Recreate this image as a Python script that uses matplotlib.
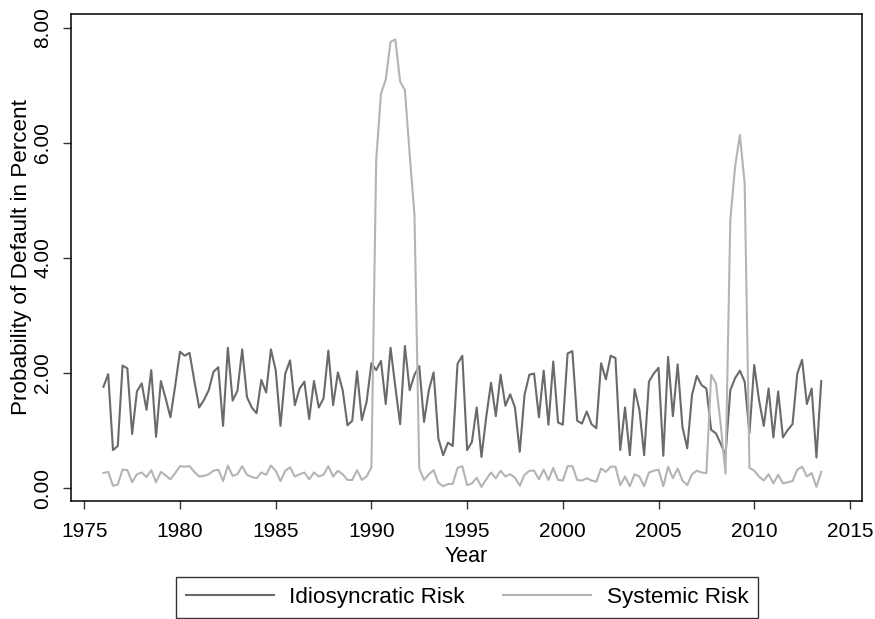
import numpy as np
import matplotlib
matplotlib.use("Agg")
import matplotlib.pyplot as plt
from matplotlib.ticker import FormatStrFormatter

# quarterly observations, 1976Q1 .. 2013Q3
idiosyncratic = [
    1.76, 1.98, 0.66, 0.73, 2.13, 2.08, 0.94, 1.68, 1.82, 1.36,
    2.05, 0.89, 1.86, 1.56, 1.23, 1.78, 2.37, 2.30, 2.35, 1.86,
    1.40, 1.53, 1.70, 2.02, 2.10, 1.08, 2.44, 1.52, 1.69, 2.41,
    1.58, 1.40, 1.30, 1.88, 1.66, 2.41, 2.05, 1.08, 1.99, 2.22,
    1.44, 1.73, 1.85, 1.20, 1.86, 1.40, 1.56, 2.39, 1.44, 2.01,
    1.70, 1.09, 1.17, 2.03, 1.18, 1.50, 2.17, 2.05, 2.21, 1.46,
    2.44, 1.76, 1.11, 2.47, 1.70, 1.97, 2.12, 1.15, 1.70, 2.01,
    0.86, 0.57, 0.79, 0.73, 2.16, 2.30, 0.66, 0.80, 1.40, 0.54,
    1.24, 1.83, 1.25, 1.97, 1.43, 1.63, 1.40, 0.63, 1.62, 1.97,
    1.99, 1.23, 2.04, 1.10, 2.20, 1.14, 1.10, 2.34, 2.38, 1.17,
    1.12, 1.33, 1.11, 1.04, 2.17, 1.89, 2.30, 2.26, 0.66, 1.40,
    0.57, 1.72, 1.36, 0.57, 1.85, 1.99, 2.09, 0.56, 2.28, 1.25,
    2.15, 1.06, 0.69, 1.62, 1.95, 1.79, 1.73, 1.01, 0.95, 0.77,
    0.57, 1.70, 1.91, 2.04, 1.85, 0.95, 2.14, 1.53, 1.08, 1.73,
    0.88, 1.68, 0.88, 1.01, 1.11, 1.99, 2.23, 1.46, 1.73, 0.53,
    1.86,
]
systemic = [
    0.26, 0.28, 0.04, 0.06, 0.32, 0.31, 0.10, 0.24, 0.27, 0.19,
    0.31, 0.10, 0.28, 0.22, 0.15, 0.26, 0.38, 0.37, 0.38, 0.28,
    0.20, 0.21, 0.24, 0.30, 0.32, 0.12, 0.39, 0.21, 0.24, 0.38,
    0.23, 0.19, 0.17, 0.27, 0.23, 0.39, 0.30, 0.12, 0.30, 0.36,
    0.20, 0.24, 0.27, 0.15, 0.27, 0.20, 0.23, 0.38, 0.20, 0.30,
    0.24, 0.14, 0.14, 0.31, 0.14, 0.20, 0.36, 5.70, 6.86, 7.10,
    7.76, 7.80, 7.07, 6.92, 5.80, 4.75, 0.34, 0.14, 0.24, 0.31,
    0.09, 0.03, 0.07, 0.07, 0.35, 0.38, 0.05, 0.08, 0.18, 0.02,
    0.15, 0.27, 0.17, 0.30, 0.20, 0.24, 0.18, 0.04, 0.23, 0.30,
    0.30, 0.15, 0.32, 0.14, 0.35, 0.14, 0.13, 0.38, 0.38, 0.14,
    0.13, 0.17, 0.13, 0.11, 0.34, 0.28, 0.37, 0.37, 0.05, 0.20,
    0.03, 0.24, 0.20, 0.03, 0.27, 0.30, 0.32, 0.03, 0.37, 0.17,
    0.34, 0.13, 0.05, 0.24, 0.30, 0.27, 0.26, 1.97, 1.82, 1.10,
    0.25, 4.66, 5.59, 6.14, 5.30, 0.35, 0.30, 0.20, 0.13, 0.24,
    0.08, 0.23, 0.08, 0.10, 0.12, 0.32, 0.37, 0.20, 0.26, 0.02,
    0.28,
]
year = 1976 + np.arange(len(idiosyncratic)) / 4

xticks = [1975, 1980, 1985, 1990, 1995, 2000, 2005, 2010, 2015]
yticks = [0, 2, 4, 6, 8]

plt.rcParams["font.family"] = ["Liberation Sans", "DejaVu Sans"]

fig = plt.figure(figsize=(8.75, 6.19), dpi=100)
ax = fig.add_axes([70.5 / 875, 1 - 501 / 619, (862 - 70.5) / 875, (501 - 14) / 619])

ax.plot(year, idiosyncratic, color="#6a6a6a", lw=1.5, label="Idiosyncratic Risk")
ax.plot(year, systemic, color="#b4b4b4", lw=1.5, label="Systemic Risk")

ax.set_xlim(1974.28, 2015.63)
ax.set_ylim(-0.226, 8.243)
ax.set_xticks(xticks)
ax.set_yticks(yticks)
ax.yaxis.set_major_formatter(FormatStrFormatter("%.2f"))

for s in ax.spines.values():
    s.set_linewidth(1.1)
ax.tick_params(length=6, width=1.0, labelsize=15, pad=7, color="#333333")
ax.tick_params(axis="x", pad=9)
for lab in ax.get_yticklabels():
    lab.set_rotation(90)
    lab.set_va("center")

ax.set_xlabel("Year", fontsize=15.5, labelpad=4)
ax.set_ylabel("Probability of Default in Percent", fontsize=16.2, labelpad=1)

fig.legend(loc="center", bbox_to_anchor=(467 / 875, 1 - 597.5 / 619), ncol=2,
           fontsize=16.2, frameon=True, fancybox=False, edgecolor="black",
           handlelength=3.9, handletextpad=0.7, columnspacing=1.7,
           borderpad=0.45).get_frame().set_linewidth(1.0)

fig.savefig("out.png", dpi=100)
